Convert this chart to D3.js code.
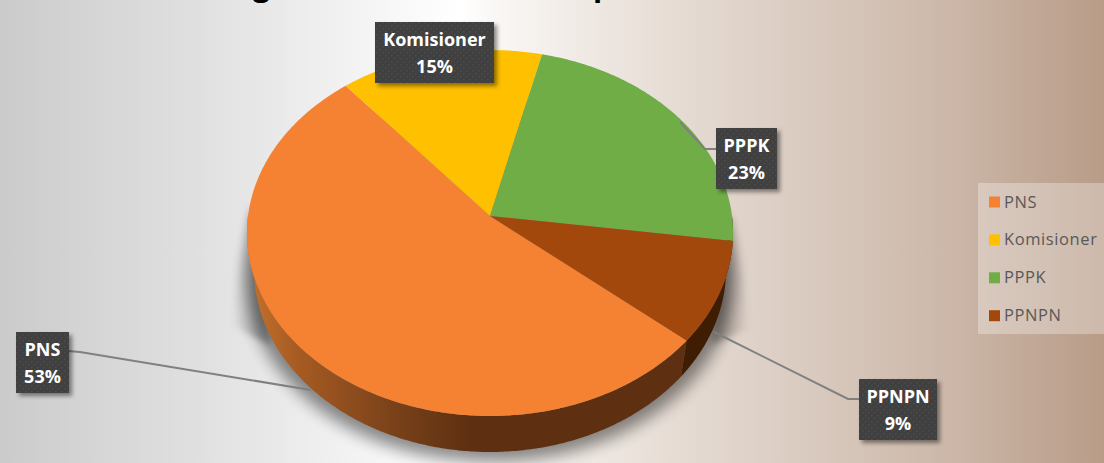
<!DOCTYPE html>
<html><head><meta charset="utf-8">
<script src="https://cdn.jsdelivr.net/npm/d3@7/dist/d3.min.js"></script>
<style>html,body{margin:0;padding:0;overflow:hidden;background:#fff}svg{display:block}</style>
</head><body><svg id="c" width="1104" height="463"></svg>
<script>
const categories=["PNS","Komisioner","PPPK","PPNPN"];
const values=[52.8,14.8,23.4,9];
const colors=["#f58233","#ffc000","#70ad47","#a3480c"];
const W=1104,H=463;
const svg=d3.select("#c");
const defs=svg.append("defs");
const bg=defs.append("linearGradient").attr("id","bg");
[[0,"#cbcbcb"],[.18,"#e0e0e0"],[.3,"#f0f0f0"],[.415,"#ffffff"],[.46,"#f8f5f2"],[.61,"#e6dcd4"],[.85,"#cdb9ab"],[1,"#b89c88"]].forEach(s=>bg.append("stop").attr("offset",s[0]).attr("stop-color",s[1]));
const wg=defs.append("linearGradient").attr("id","wall").attr("gradientUnits","userSpaceOnUse").attr("x1",250).attr("x2",470).attr("y1",0).attr("y2",0);
[[0,"#c4702c"],[.23,"#a55a22"],[.68,"#774019"],[1,"#5e3011"]].forEach(s=>wg.append("stop").attr("offset",s[0]).attr("stop-color",s[1]));
function wedgeGrad(id,x1,x2){const g=defs.append("linearGradient").attr("id",id).attr("gradientUnits","userSpaceOnUse").attr("x1",x1).attr("x2",x2).attr("y1",0).attr("y2",0);
  g.append("stop").attr("offset",0).attr("stop-color","#000").attr("stop-opacity",0);
  g.append("stop").attr("offset",1).attr("stop-color","#000").attr("stop-opacity",.25);}
wedgeGrad("wl",232,258);wedgeGrad("wr",750,722);
defs.append("filter").attr("id","blur").attr("x","-20%").attr("y","-20%").attr("width","140%").attr("height","140%").append("feGaussianBlur").attr("stdDeviation",8);
defs.append("filter").attr("id","b1").attr("x","-30%").attr("y","-30%").attr("width","160%").attr("height","160%").append("feGaussianBlur").attr("stdDeviation",3);
const ds=defs.append("filter").attr("id","ds").attr("x","-20%").attr("y","-20%").attr("width","140%").attr("height","150%");
ds.append("feDropShadow").attr("dx",3).attr("dy",3).attr("stdDeviation",2).attr("flood-color","#000").attr("flood-opacity",.45);
const pat=defs.append("pattern").attr("id","dots").attr("width",6).attr("height",6).attr("patternUnits","userSpaceOnUse");
pat.append("rect").attr("width",6).attr("height",6).attr("fill","#3f3f3f");
pat.append("rect").attr("x",1).attr("y",1).attr("width",1.5).attr("height",1.5).attr("fill","#4c4c4c");
pat.append("rect").attr("x",4).attr("y",4).attr("width",1.5).attr("height",1.5).attr("fill","#4c4c4c");

svg.append("rect").attr("width",W).attr("height",H).attr("fill","url(#bg)");
// cropped title descenders
svg.append("text").attr("x",253).attr("y",-4).attr("font-family","Open Sans").attr("font-weight",700).attr("font-size",30).attr("fill","#000").text("g");
svg.append("text").attr("x",593).attr("y",-4).attr("font-family","Open Sans").attr("font-weight",700).attr("font-size",30).attr("fill","#000").text("p");

// perspective projection of the pie disc
const ax=490,ay=216,R=242,S=181.4,k=.093,depth=36;
function proj(th,z){const X=Math.sin(th),Y=-Math.cos(th),d=1-k*Y,sc=1-z*.0008;
  return [ax+sc*R*X/d, ay+z+S*Y/d];}
const pie=d3.pie().sort(null).value(d=>d).startAngle(130.2*Math.PI/180).endAngle((130.2+360)*Math.PI/180);
const arcs=pie(values);
const line=d3.line();
function samples(a,b,z){const n=Math.max(2,Math.ceil(Math.abs(b-a)/.01));return d3.range(n+1).map(i=>proj(a+(b-a)*i/n,z));}

// shadow
svg.append("path").attr("d",line(samples(0,2*Math.PI,36))+"Z").attr("transform","translate(490,0) scale(1.03,1) translate(-490,10)").attr("fill","#000").attr("opacity",.45).attr("filter","url(#blur)");
svg.append("path").attr("d",line([[248,205],[231,325],[270,345],[268,250]])+"Z").attr("fill","url(#wl)").attr("filter","url(#b1)");
svg.append("path").attr("d",line([[733,215],[750,328],[712,345],[715,250]])+"Z").attr("fill","url(#wr)").attr("filter","url(#b1)");

// side wall, visible lower half
function wall(a,b){const top=samples(a,b,0),bot=samples(a,b,depth).reverse();return line(top.concat(bot))+"Z";}
const vis0=Math.PI/2,vis1=3*Math.PI/2;
const p=arcs[0],q=arcs[3];
svg.append("path").attr("d",wall(p.startAngle,vis1)).attr("fill","url(#wall)");
svg.append("path").attr("d",wall(vis0,q.endAngle-2*Math.PI)).attr("fill","#3f1d02");

// top faces
arcs.forEach((d,i)=>{
  svg.append("path").attr("d",line([[ax,ay]].concat(samples(d.startAngle,d.endAngle,0)))+"Z").attr("fill",colors[i]);
});

// leader lines
const leaders=[[[68,351],[80,352],[311,390]],[[716,149],[705,149],[680,122]],[[859,399],[848,399],[714,332]]];
leaders.forEach(l=>svg.append("path").attr("d",line(l)).attr("fill","none").attr("stroke","#7f8080").attr("stroke-width",2));

// data labels
const boxes=[[16,332,53,61],[375,22,119,61],[716,128,61,61],[859,379,78,61]];
const lf="'Open Sans'";
categories.forEach((c,i)=>{
  const b=boxes[i],g=svg.append("g");
  g.append("rect").attr("x",b[0]).attr("y",b[1]).attr("width",b[2]).attr("height",b[3]).attr("fill","url(#dots)").attr("filter","url(#ds)");
  const cx=b[0]+b[2]/2;
  g.append("text").attr("x",cx).attr("y",b[1]+24).attr("text-anchor","middle").attr("font-family",lf).attr("font-weight",700).attr("font-size",18).attr("fill","#fff").text(c);
  g.append("text").attr("x",cx).attr("y",b[1]+51).attr("text-anchor","middle").attr("font-family",lf).attr("font-weight",700).attr("font-size",18).attr("fill","#fff").text(Math.round(values[i])+"%");
});

// legend
svg.append("rect").attr("x",978).attr("y",183).attr("width",126).attr("height",151).attr("fill","#fff").attr("opacity",.3);
categories.forEach((c,i)=>{
  const y=202+i*37.9;
  svg.append("rect").attr("x",989).attr("y",y-5.5).attr("width",11).attr("height",11).attr("fill",colors[i]);
  svg.append("text").attr("x",1004).attr("y",y+5.5).attr("font-family",lf).attr("font-size",16.5).attr("letter-spacing",.6).attr("fill","#595959").text(c);
});
</script></body></html>
